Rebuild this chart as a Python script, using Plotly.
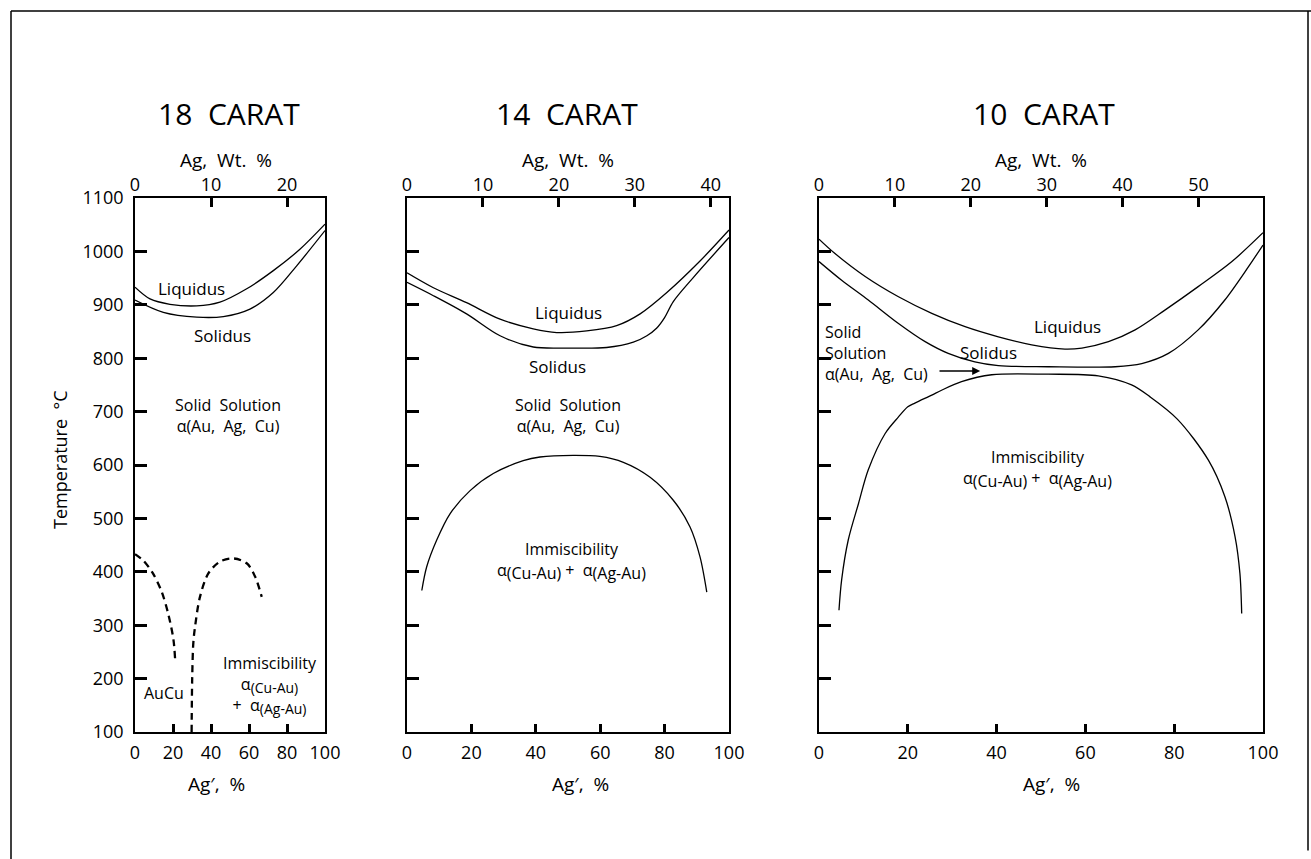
import plotly.graph_objects as go

W, H = 1311, 859
FONT = "Open Sans"

# ---------------- data (Ag' %, temperature °C) ----------------
# 18 carat
k18_liq_x = [0, 7.9, 18.4, 32.5, 44.7, 58.8, 72.8, 86.8, 100]
k18_liq_t = [933, 911, 901, 898, 905, 930, 964, 1004, 1051]
k18_sol_x = [0, 14.9, 32.5, 46.5, 60.5, 72.8, 85.1, 100]
k18_sol_t = [909, 886, 877, 878, 892, 923, 973, 1039]
k18_aucu_l_x = [0, 4.4, 9.6, 14.1, 17.5, 20.2, 21.1]
k18_aucu_l_t = [433, 421, 396, 362, 321, 274, 237]
k18_aucu_r_x = [29.8, 30.1, 30.7, 31.6, 34.2, 38.6, 44.7, 51.7, 58.8, 63.2, 66.7]
k18_aucu_r_t = [100, 200, 267, 297, 353, 397, 419, 425, 416, 391, 353]

# 14 carat
k14_liq_x = [0, 8.2, 18.5, 28.9, 39.2, 46.5, 55.8, 65.1, 72.4, 80.7, 91.0, 100]
k14_liq_t = [960, 932, 904, 873, 855, 848, 851, 861, 883, 923, 982, 1040]
k14_sol_x = [0, 8.2, 18.5, 28.9, 39.2, 49.6, 62.0, 70.3, 74.5, 77.5, 80.0, 82.7, 88.9, 100]
k14_sol_t = [942, 917, 883, 842, 821, 819, 820, 830, 842, 856, 876, 906, 951, 1026]
k14_imm_x = [4.6, 6.1, 9.2, 13.4, 19.6, 26.8, 36.1, 41.3, 51.6, 59.9, 67.2, 75.5, 82.7, 87.9, 91.0, 93.1]
k14_imm_t = [365, 409, 459, 509, 552, 584, 608, 615, 618, 616, 605, 577, 534, 484, 428, 362]

# 10 carat
k10_liq_x = [0, 3.6, 10.4, 17.9, 25.4, 32.9, 40.4, 47.9, 55.4, 59.2, 65.2, 71.2, 77.9, 85.4, 93.0, 100]
k10_liq_t = [1023, 996, 953, 915, 884, 859, 840, 825, 817, 819, 831, 853, 890, 934, 981, 1035]
k10_sol_x = [0, 5.1, 11.1, 17.9, 23.9, 29.1, 35.1, 40.4, 51.6, 66.7, 72.7, 78.7, 85.4, 91.4, 96.7, 100]
k10_sol_t = [981, 946, 909, 865, 831, 809, 793, 786, 784, 784, 790, 809, 853, 909, 971, 1012]
k10_imm_x = [4.5, 5.1, 6.6, 8.9, 11.1, 14.9, 17.9, 20.0, 21.6, 25.4, 27.6, 32.1, 38.9, 51.6,
             62.9, 70.4, 74.5, 80.7, 87.7, 91.4, 93.7, 94.8, 95.2]
k10_imm_t = [328, 385, 460, 528, 591, 659, 690, 709, 716, 731, 740, 756, 769, 770,
             767, 750, 728, 686, 609, 541, 466, 397, 322]

# axis ticks
temp_ticks = [100, 200, 300, 400, 500, 600, 700, 800, 900, 1000, 1100]
agp_ticks = [0, 20, 40, 60, 80, 100]
wt_ticks_18 = [0, 10, 20]
wt_ticks_14 = [0, 10, 20, 30, 40]
wt_ticks_10 = [0, 10, 20, 30, 40, 50]
titles = ["18  CARAT", "14  CARAT", "10  CARAT"]

# ---------------- figure ----------------
fig = go.Figure()

def px_x(p):
    return p / W

def px_y(p):
    return 1 - p / H

ydom = [px_y(732), px_y(198)]
panels = [
    dict(xb="x", xt="x2", y="y", dom=[px_x(135), px_x(325)], trange=[0, 25], tt=wt_ticks_18, lab=True),
    dict(xb="x3", xt="x4", y="y2", dom=[px_x(407), px_x(729)], trange=[0, 42.4], tt=wt_ticks_14, lab=False),
    dict(xb="x5", xt="x6", y="y3", dom=[px_x(819), px_x(1263)], trange=[0, 58.5], tt=wt_ticks_10, lab=False),
]

def line(xs, ts, p, dash=None, width=1.3):
    fig.add_trace(go.Scatter(
        x=xs, y=ts, mode="lines", xaxis=p["xb"], yaxis=p["y"],
        line=dict(color="black", width=width, shape="spline", smoothing=0.9,
                  dash=dash if dash else "solid"),
        showlegend=False, hoverinfo="skip"))

p1, p2, p3 = panels
line(k18_liq_x, k18_liq_t, p1)
line(k18_sol_x, k18_sol_t, p1)
line(k18_aucu_l_x, k18_aucu_l_t, p1, dash="7px,5px", width=2.3)
line(k18_aucu_r_x, k18_aucu_r_t, p1, dash="7px,5px", width=2.3)
line(k14_liq_x, k14_liq_t, p2)
line(k14_sol_x, k14_sol_t, p2)
line(k14_imm_x, k14_imm_t, p2)
line(k10_liq_x, k10_liq_t, p3)
line(k10_sol_x, k10_sol_t, p3)
line(k10_imm_x, k10_imm_t, p3)

# empty traces so top axes get drawn
for p in panels:
    fig.add_trace(go.Scatter(x=[], y=[], xaxis=p["xt"], yaxis=p["y"],
                             showlegend=False, hoverinfo="skip"))

tickfont = dict(family=FONT, size=18, color="black")
layout = {}
for p in panels:
    xb_name = "xaxis" + p["xb"][1:]
    xt_name = "xaxis" + p["xt"][1:]
    y_name = "yaxis" + p["y"][1:]
    layout[xb_name] = dict(
        domain=p["dom"], anchor=p["y"], range=[0, 100], tickvals=agp_ticks,
        ticks="inside", ticklen=8, tickwidth=2.5, tickcolor="black",
        showline=True, mirror=True, linecolor="black", linewidth=1.6,
        showgrid=False, zeroline=False, tickfont=tickfont, ticklabelstandoff=4,
        automargin=False)
    layout[xt_name] = dict(
        overlaying=p["xb"], side="top", anchor=p["y"], range=p["trange"],
        tickvals=p["tt"], ticks="inside", ticklen=9, tickwidth=2.5, tickcolor="black",
        showline=False, showgrid=False, zeroline=False, tickfont=tickfont,
        ticklabelstandoff=2, automargin=False)
    layout[y_name] = dict(
        domain=ydom, anchor=p["xb"], range=[100, 1100], tickvals=temp_ticks,
        ticks="inside", ticklen=12, tickwidth=2.5, tickcolor="black",
        showline=True, mirror=True, linecolor="black", linewidth=1.6,
        showgrid=False, zeroline=False, showticklabels=p["lab"], tickfont=tickfont,
        ticklabelstandoff=6, automargin=False)

fig.update_layout(**layout)

ann = []

def ptext(text, x, y, size, angle=0):
    ann.append(dict(text=text, x=px_x(x), y=px_y(y), xref="paper", yref="paper",
                    showarrow=False, textangle=angle, xanchor="center", yanchor="middle",
                    font=dict(family=FONT, size=size, color="black")))

def dtext(text, x, y, p, size=17, anchor="center", align="center"):
    ann.append(dict(text=text, x=x, y=y, xref=p["xb"], yref=p["y"], showarrow=False,
                    xanchor=anchor, yanchor="middle", align=align,
                    font=dict(family=FONT, size=size, color="black")))

def subtxt(s, size=15):
    return '<sub><span style="font-size:%dpx">%s</span></sub>' % (size, s)

# titles and axis titles
for t, cx in zip(titles, [229, 567, 1044]):
    ptext(t, cx, 113, 30)
for cx in [226, 568, 1041]:
    ptext("Ag,  Wt.  %", cx, 160, 19)
for cx in [216, 580, 1051]:
    ptext("Ag′,  %", cx, 784, 19)
ptext("Temperature  °C", 60, 460, 18, angle=-90)

# 18 carat labels
dtext("Liquidus", 29.8, 930, p1)
dtext("Solidus", 45.8, 843, p1)
dtext("Solid  Solution<br>α(Au,  Ag,  Cu)", 49, 692, p1, size=16)
dtext("AuCu", 15.3, 173, p1, size=16)
dtext("Immiscibility<br>α" + subtxt("(Cu-Au)", 14) + "<br>+  α" + subtxt("(Ag-Au)", 14),
      71.3, 188, p1, size=16)

# 14 carat labels
dtext("Liquidus", 50, 885, p2)
dtext("Solidus", 46.6, 785, p2)
dtext("Solid  Solution<br>α(Au,  Ag,  Cu)", 50, 693, p2, size=16)
dtext("Immiscibility<br>α" + subtxt("(Cu-Au)", 16) + " +  α" + subtxt("(Ag-Au)", 16),
      51.2, 420, p2, size=16)

# 10 carat labels
dtext("Liquidus", 55.9, 860, p3)
dtext("Solidus", 38.1, 810, p3)
dtext("Solid<br>Solution<br>α(Au,  Ag,  Cu)", 0.9, 810, p3, size=16, anchor="left", align="left")
dtext("Immiscibility<br>α" + subtxt("(Cu-Au)", 16) + " +  α" + subtxt("(Ag-Au)", 16),
      49.1, 592, p3, size=16)
ann.append(dict(text="", x=36.3, y=776, ax=26.8, ay=776, xref="x5", yref="y3",
                axref="x5", ayref="y3", showarrow=True, arrowhead=2, arrowsize=1,
                arrowwidth=1.6, arrowcolor="black"))

fig.update_layout(annotations=ann)

# outer page frame
frame = dict(color="black", width=1.5)
fig.update_layout(shapes=[
    dict(type="line", xref="paper", yref="paper", x0=px_x(11), x1=1, y0=px_y(11), y1=px_y(11), line=frame),
    dict(type="line", xref="paper", yref="paper", x0=px_x(11), x1=px_x(11), y0=0, y1=px_y(11), line=frame),
    dict(type="line", xref="paper", yref="paper", x0=px_x(1308), x1=px_x(1308), y0=0.01, y1=px_y(11), line=frame),
])

fig.update_layout(width=W, height=H, autosize=False,
                  margin=dict(l=0, r=0, t=0, b=0, pad=0, autoexpand=False),
                  paper_bgcolor="white", plot_bgcolor="white",
                  showlegend=False, font=dict(family=FONT, color="black"))

fig.write_html("out.html", config={"displayModeBar": False},
               post_script="document.body.style.margin='0';document.body.style.overflow='hidden';")
